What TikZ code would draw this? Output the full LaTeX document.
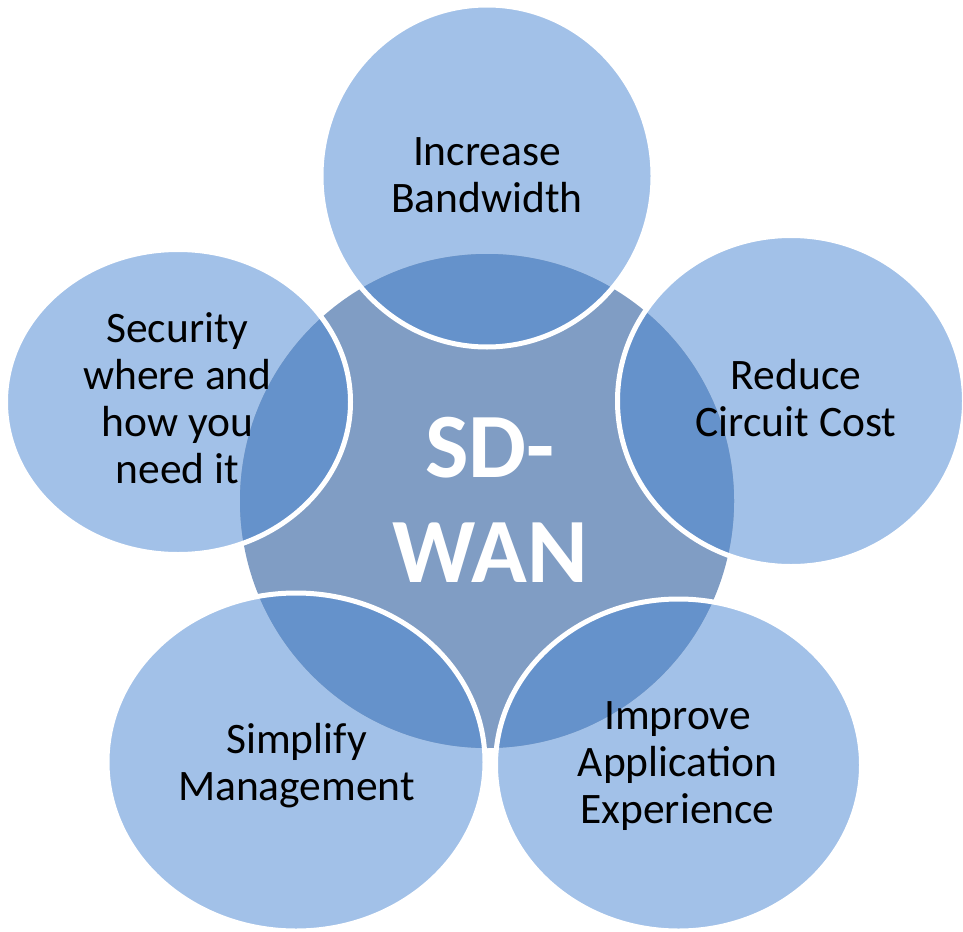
\documentclass[tikz,border=0pt]{standalone}
\usepackage{fontspec}
\setmainfont{Carlito}
\definecolor{outerblue}{HTML}{A2C1E8}
\definecolor{coreblue}{HTML}{809DC4}
\definecolor{overlapblue}{HTML}{6592CB}
\begin{document}
\begin{tikzpicture}[x=1pt,y=-1pt,
  lbl/.style={anchor=base,inner sep=0pt,text=black,font=\fontsize{43.5}{47}\selectfont},
  corelbl/.style={anchor=base,inner sep=0pt,text=white,font=\bfseries\fontsize{92}{105}\selectfont},
  ring/.style={draw=white,line width=5pt}]
\useasboundingbox (0,0) rectangle (963,931);
\def\ellT{(487,176) ellipse [x radius=166, y radius=171]}
\def\ellR{(791,401) ellipse [x radius=173.5, y radius=165.5]}
\def\ellL{(178,402) ellipse [x radius=172.5, y radius=152.5]}
\def\ellBL{(296,762) ellipse [x radius=189, y radius=169]}
\def\ellBR{(678.5,765) ellipse [x radius=183, y radius=166]}
\def\core{(487,501) circle [radius=247]}
% outer fills
\fill[outerblue] \ellT;
\fill[outerblue] \ellR;
\fill[outerblue] \ellL;
\fill[outerblue] \ellBL;
\fill[outerblue] \ellBR;
% central circle
\fill[coreblue] \core;
% overlaps
\begin{scope}
  \clip \core;
  \fill[overlapblue] \ellT;
  \fill[overlapblue] \ellR;
  \fill[overlapblue] \ellL;
  \fill[overlapblue] \ellBL;
  \fill[overlapblue] \ellBR;
\end{scope}
% white outlines
\draw[ring] \ellT;
\draw[ring] \ellR;
\draw[ring] \ellL;
\draw[ring] \ellBL;
\draw[ring] \ellBR;
% texts
\node[corelbl] (sdwan) at (490,477) {\begin{tabular}[t]{@{}c@{}}SD-\\WAN\end{tabular}};
\node[lbl] (bandwidth) at (487,165) {\begin{tabular}[t]{@{}c@{}}Increase\\Bandwidth\end{tabular}};
\node[lbl] (cost) at (796,389) {\begin{tabular}[t]{@{}c@{}}Reduce\\Circuit Cost\end{tabular}};
\node[lbl] (security) at (177.5,342) {\begin{tabular}[t]{@{}c@{}}Security\\where and\\how you\\need it\end{tabular}};
\node[lbl] (simplify) at (296.5,753) {\begin{tabular}[t]{@{}c@{}}Simplify\\Management\end{tabular}};
\node[lbl] (improve) at (677.5,729) {\begin{tabular}[t]{@{}c@{}}Improve\\Application\\Experience\end{tabular}};
\end{tikzpicture}
\end{document}
